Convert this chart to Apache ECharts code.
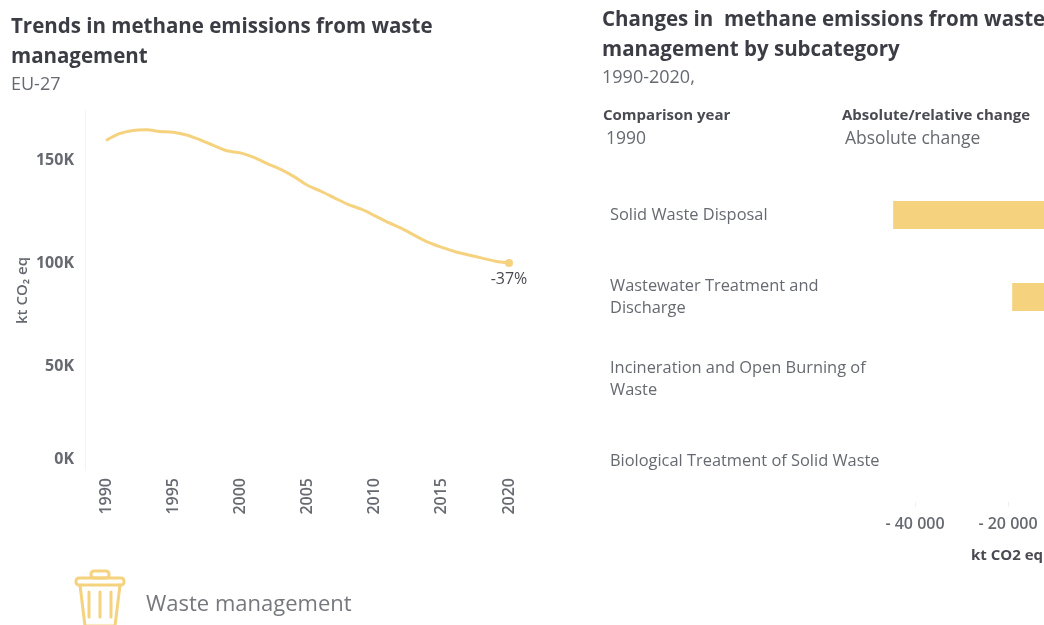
<!DOCTYPE html>
<html>
<head>
<meta charset="utf-8">
<style>html,body{margin:0;padding:0;background:#fff;overflow:hidden}#chart{width:1044px;height:625px}</style>
<script src="https://cdn.jsdelivr.net/npm/echarts@6/dist/echarts.min.js"></script>
</head>
<body>
<div id="chart"></div>
<script>
// Total methane emissions from waste, kt CO2 eq
const years = ['1990','1991','1992','1993','1994','1995','1996','1997','1998','1999','2000','2001','2002','2003','2004','2005','2006','2007','2008','2009','2010','2011','2012','2013','2014','2015','2016','2017','2018','2019','2020'];
const emissions = [159700,163000,164600,164900,164100,163700,162400,160000,157300,154700,153700,151500,148500,145700,142200,138000,135100,131900,128800,126400,123300,120000,117100,113600,110300,107900,105800,104200,102700,101200,100300];
const endLabel = '-37%';

// Absolute change 1990-2020 per subcategory, kt CO2 eq
const subcategories = ['Solid Waste Disposal','Wastewater Treatment and\nDischarge','Incineration and Open Burning of\nWaste','Biological Treatment of Solid Waste'];
const changes = [-44700,-19100,-600,-300];
const changeTicks = [-40000,-20000,0];

const FONT = '"Open Sans", "Noto Sans", sans-serif';
const GOLD = '#f5d27e';
const DARK = '#4a4a52';
const MID = '#666a70';

function label(x, y, text, size, weight, fill) {
  return { type: 'text', x: x, y: y, style: { text: text, font: weight + ' ' + size + 'px ' + FONT, fill: fill, textVerticalAlign: 'middle' } };
}
function stroke(shape, type) {
  return { type: type, shape: shape, style: { stroke: GOLD, lineWidth: 3, fill: 'none', lineCap: 'round', lineJoin: 'round' } };
}

const chart = echarts.init(document.getElementById('chart'), null, { renderer: 'canvas' });
chart.setOption({
  backgroundColor: '#ffffff',
  animation: false,
  grid: [
    { left: 106, top: 111, width: 403, height: 359, outerBoundsMode: 'none' },
    { left: 822, top: 174, width: 279, height: 328, outerBoundsMode: 'none' }
  ],
  xAxis: [
    {
      gridIndex: 0, type: 'category', data: years, boundaryGap: false,
      axisLine: { show: false }, axisTick: { show: false },
      axisLabel: { interval: 4, rotate: 90, margin: 8, color: MID, fontFamily: FONT, fontWeight: 600, fontSize: 16 }
    },
    {
      gridIndex: 1, type: 'value', min: -60000, max: 0, interval: 20000,
      splitLine: { show: false },
      axisLine: { show: false },
      axisTick: { show: true, length: 5, customValues: changeTicks, lineStyle: { color: '#f0f0f0' } },
      axisLabel: {
        margin: 14, customValues: changeTicks, color: MID, fontFamily: FONT, fontWeight: 600, fontSize: 16,
        formatter: v => v === 0 ? '0' : '- ' + Math.abs(v / 1000) + ' 000'
      }
    }
  ],
  yAxis: [
    {
      gridIndex: 0, type: 'value', min: 0, max: 174000, interval: 50000, offset: 21,
      name: 'kt CO\u2082 eq', nameLocation: 'middle', nameGap: 55, nameRotate: 90,
      nameTextStyle: { color: MID, fontFamily: FONT, fontWeight: 600, fontSize: 15 },
      splitLine: { show: false },
      axisLine: { show: true, lineStyle: { color: '#f3f3f3' } },
      axisTick: { show: false },
      axisLabel: {
        margin: 11, showMaxLabel: false,
        color: MID, fontFamily: FONT, fontWeight: 700, fontSize: 16,
        formatter: v => v === 0 ? '{zero|0K}' : (v / 1000) + 'K',
        // The zero label sits above its tick so it stays clear of the year labels
        rich: { zero: { color: MID, fontFamily: FONT, fontWeight: 700, fontSize: 16, padding: [0, 0, 22, 0] } }
      }
    },
    {
      gridIndex: 1, type: 'category', data: subcategories, inverse: true,
      axisLine: { show: false }, axisTick: { show: false },
      axisLabel: { align: 'left', margin: 212, color: MID, fontFamily: FONT, fontSize: 16.4, lineHeight: 22 }
    }
  ],
  series: [
    {
      type: 'line', xAxisIndex: 0, yAxisIndex: 0, smooth: 0.3,
      showAllSymbol: true, symbol: 'circle',
      symbolSize: (v, p) => p.dataIndex === emissions.length - 1 ? 8 : 0,
      lineStyle: { color: GOLD, width: 3 },
      itemStyle: { color: GOLD },
      data: emissions.map((v, i) => i === emissions.length - 1
        ? { value: v, label: { show: true, position: 'bottom', distance: 4, formatter: endLabel, color: DARK, fontFamily: FONT, fontSize: 16 } }
        : v)
    },
    {
      type: 'bar', xAxisIndex: 1, yAxisIndex: 1, barWidth: 28, silent: true,
      itemStyle: { color: GOLD },
      data: changes
    }
  ],
  graphic: [
    label(11, 27, 'Trends in methane emissions from waste', 20.5, 700, '#3c3c44'),
    label(11, 57, 'management', 20.5, 700, '#3c3c44'),
    label(11, 85, 'EU-27', 18, 400, MID),
    label(602, 20, 'Changes in  methane emissions from waste', 20.5, 700, '#3c3c44'),
    label(602, 50, 'management by subcategory', 20.5, 700, '#3c3c44'),
    label(602, 78, '1990-2020,', 18, 400, MID),
    label(603, 116, 'Comparison year', 15, 700, DARK),
    label(606, 139, '1990', 17.5, 400, MID),
    label(842, 116, 'Absolute/relative change', 15, 700, DARK),
    label(845, 139, 'Absolute change', 17.5, 400, MID),
    label(971, 556, 'kt CO2 eq', 15, 700, DARK),
    label(146, 605, 'Waste management', 22, 400, '#77787e'),
    // Waste bin pictogram
    stroke({ x: 91, y: 571, width: 18, height: 7, r: 3 }, 'rect'),
    stroke({ x: 76, y: 578, width: 48, height: 7, r: 3 }, 'rect'),
    stroke({ points: [[80, 585], [85, 626], [115, 626], [120, 585]] }, 'polyline'),
    stroke({ x1: 89, y1: 592, x2: 89, y2: 617 }, 'line'),
    stroke({ x1: 100, y1: 592, x2: 100, y2: 617 }, 'line'),
    stroke({ x1: 111, y1: 592, x2: 111, y2: 617 }, 'line')
  ]
});
</script>
</body>
</html>
